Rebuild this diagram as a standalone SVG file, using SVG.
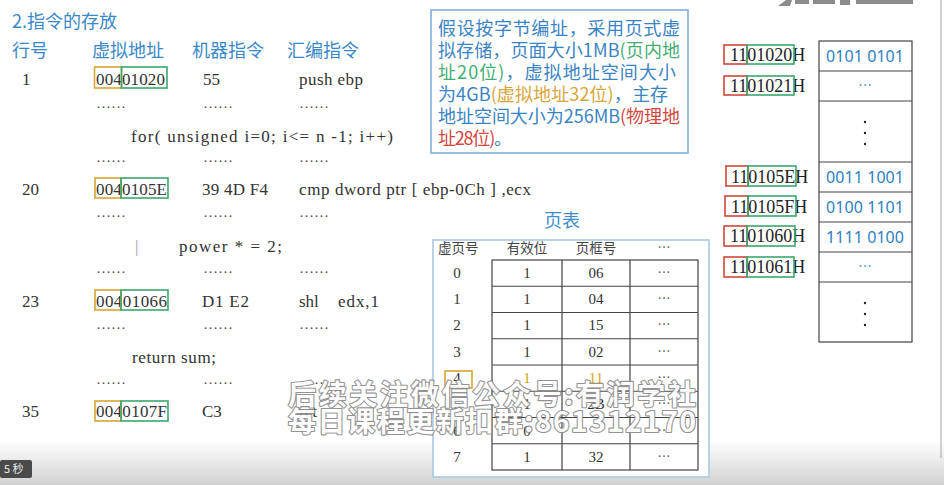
<svg xmlns="http://www.w3.org/2000/svg" width="944" height="485" viewBox="0 0 944 485">
<defs>
<linearGradient id="bar" x1="0" y1="0" x2="0" y2="1">
<stop offset="0" stop-color="#ffffff"/>
<stop offset="1" stop-color="#d2d2d2"/>
</linearGradient>
</defs>
<style>
.hd{font-family:"Noto Sans CJK SC","Noto Sans",sans-serif;font-size:18px;fill:#3a88c8}
.cd{font-family:"Liberation Serif",serif;font-size:17px;fill:#333}
.dt{font-family:"Liberation Serif",serif;font-size:15px;fill:#555}
.yb{fill:none;stroke:#d6a532;stroke-width:1.6}
.gb{fill:none;stroke:#3aa86e;stroke-width:1.6}
.rb{fill:none;stroke:#d0463c;stroke-width:1.6}
.ib{font-family:"Noto Sans CJK SC",sans-serif;font-size:18px;fill:#3a84c4}
.g{fill:#45ad73}.y{fill:#d8a63a}.r{fill:#d2483e}
.th{font-family:"Noto Sans CJK SC",serif;font-size:13.5px;fill:#444}
.tc{font-family:"Liberation Serif",serif;font-size:15px;fill:#333;text-anchor:middle}
.te{font-family:"Noto Sans CJK SC",sans-serif;font-size:13px;fill:#666;text-anchor:middle}
.grid{fill:none;stroke:#444;stroke-width:1.2}
.ad{font-family:"Liberation Serif",serif;font-size:18px;fill:#222}
.mv{font-family:"Noto Sans",sans-serif;font-size:16px;fill:#2f7fc1;text-anchor:middle}
.me{font-family:"Noto Sans CJK SC",sans-serif;font-size:14px;fill:#2f7fc1;text-anchor:middle}
.wm{font-family:"Noto Sans CJK SC",sans-serif;font-weight:700;font-size:28px;fill:#ffffff;stroke:#8a8a8a;stroke-width:2.2;paint-order:stroke;stroke-linejoin:round}
</style>
<rect x="0" y="0" width="944" height="485" fill="#ffffff"/>
<rect x="0" y="440" width="944" height="45" fill="url(#bar)"/>
<line x1="941" y1="0" x2="941" y2="458" stroke="#b5b5b5" stroke-width="1.2"/>
<g id="logo" fill="#8c8c8c">
<path d="M778 6 L786 0 L792 0 L790 6 Z"/>
<rect x="795" y="0" width="14" height="4"/>
<rect x="813" y="0" width="22" height="4"/>
<rect x="840" y="0" width="10" height="5"/>
<rect x="856" y="0" width="57" height="4"/>
</g>

<g id="heading">
<text class="hd" x="12" y="28">2.指令的存放</text>
<text class="hd" x="12" y="57">行号</text>
<text class="hd" x="92" y="57">虚拟地址</text>
<text class="hd" x="192" y="57">机器指令</text>
<text class="hd" x="287" y="57">汇编指令</text>
</g>

<g id="code-listing">
<text class="cd" x="22" y="85">1</text>
<text class="cd" x="96" y="85" textLength="69">00401020</text>
<text class="cd" x="203" y="85">55</text>
<text class="cd" x="299" y="85" textLength="64">push ebp</text>
<rect class="yb" x="94.5" y="67" width="27" height="21"/>
<rect class="gb" x="121.5" y="67" width="45.5" height="21"/>
<text class="dt" x="96" y="108">……</text><text class="dt" x="203" y="108">……</text><text class="dt" x="299" y="108">……</text>
<text class="cd" x="131" y="142" textLength="262">for( unsigned i=0; i&lt;= n -1; i++)</text>
<text class="dt" x="96" y="162">……</text><text class="dt" x="203" y="162">……</text><text class="dt" x="299" y="162">……</text>
<text class="cd" x="22" y="195">20</text>
<text class="cd" x="96" y="195" textLength="71">0040105E</text>
<text class="cd" x="202" y="195" textLength="66">39 4D F4</text>
<text class="cd" x="299" y="195" textLength="232">cmp dword ptr [ ebp-0Ch ] ,ecx</text>
<rect class="yb" x="95" y="178" width="26" height="20"/>
<rect class="gb" x="121" y="178" width="47" height="20"/>
<text class="dt" x="96" y="217">……</text><text class="dt" x="203" y="217">……</text><text class="dt" x="299" y="217">……</text>
<text class="cd" x="135" y="252" style="fill:#999">|</text>
<text class="cd" x="179" y="252" textLength="103">power  *  =  2;</text>
<text class="dt" x="96" y="273">……</text><text class="dt" x="203" y="273">……</text><text class="dt" x="299" y="273">……</text>
<text class="cd" x="22" y="307">23</text>
<text class="cd" x="96" y="307" textLength="71">00401066</text>
<text class="cd" x="202" y="307" textLength="47">D1 E2</text>
<text class="cd" x="299" y="307">shl</text>
<text class="cd" x="338" y="307" textLength="41">edx,1</text>
<rect class="yb" x="95" y="290" width="26" height="20"/>
<rect class="gb" x="121" y="290" width="47" height="20"/>
<text class="dt" x="96" y="329">……</text><text class="dt" x="203" y="329">……</text><text class="dt" x="299" y="329">……</text>
<text class="cd" x="132" y="363" textLength="84">return sum;</text>
<text class="dt" x="96" y="384">……</text><text class="dt" x="203" y="384">……</text><text class="dt" x="299" y="384">……</text>
<text class="cd" x="22" y="417">35</text>
<text class="cd" x="96" y="417" textLength="71">0040107F</text>
<text class="cd" x="202" y="417">C3</text>
<text class="cd" x="299" y="417">ret</text>
<rect class="yb" x="95" y="401" width="26" height="20"/>
<rect class="gb" x="121" y="401" width="47" height="20"/>
</g>

<g id="info-box">
<rect x="431" y="10" width="257" height="143" fill="#ffffff" stroke="#7fb0dc" stroke-width="1.6"/>
<text class="ib" x="438" y="35" textLength="242">假设按字节编址，采用页式虚</text>
<text class="ib" x="438" y="57" textLength="242">拟存储，页面大小1MB<tspan class="g">(页内地</tspan></text>
<text class="ib" x="438" y="79" textLength="238"><tspan class="g">址20位)</tspan>，虚拟地址空间大小</text>
<text class="ib" x="438" y="101" textLength="230">为4GB<tspan class="y">(虚拟地址32位)</tspan>，主存</text>
<text class="ib" x="438" y="123" textLength="242">地址空间大小为256MB<tspan class="r">(物理地</tspan></text>
<text class="ib" x="438" y="145" textLength="74"><tspan class="r">址28位)</tspan>。</text>
</g>

<g id="page-table">
<text x="562" y="227" text-anchor="middle" style="font-family:'Noto Sans CJK SC',sans-serif;font-size:18px;fill:#3f8fcb">页表</text>
<rect x="433" y="240" width="276" height="237" fill="#ffffff" stroke="#a8c8e8" stroke-width="1.6"/>
<text class="th" x="438" y="253">虚页号</text>
<text class="th" x="527" y="253" text-anchor="middle">有效位</text>
<text class="th" x="596" y="253" text-anchor="middle">页框号</text>
<text class="te" x="664" y="252">…</text>
<rect class="grid" x="492" y="260" width="206" height="210"/>
<path class="grid" d="M562 260V470M630 260V470M492 286.25H698M492 312.5H698M492 338.75H698M492 365H698M492 391.25H698M492 417.5H698M492 443.75H698"/>
<g>
<text class="tc" x="457" y="278">0</text><text class="tc" x="527" y="278">1</text><text class="tc" x="596" y="278">06</text><text class="te" x="664" y="277">…</text>
<text class="tc" x="457" y="304">1</text><text class="tc" x="527" y="304">1</text><text class="tc" x="596" y="304">04</text><text class="te" x="664" y="303">…</text>
<text class="tc" x="457" y="330">2</text><text class="tc" x="527" y="330">1</text><text class="tc" x="596" y="330">15</text><text class="te" x="664" y="329">…</text>
<text class="tc" x="457" y="357">3</text><text class="tc" x="527" y="357">1</text><text class="tc" x="596" y="357">02</text><text class="te" x="664" y="356">…</text>
<text class="tc" x="457" y="383">4</text><text class="tc" x="527" y="383" style="fill:#d9a520">1</text><text class="tc" x="596" y="383" style="fill:#d9a520">11</text><text class="te" x="664" y="382">…</text>
<rect class="yb" x="445" y="371" width="27" height="17"/>
<text class="tc" x="457" y="409">5</text><text class="tc" x="527" y="409">1</text><text class="tc" x="596" y="409">2B</text><text class="te" x="664" y="408">…</text>
<text class="tc" x="457" y="436">6</text><text class="tc" x="527" y="436">0</text><text class="te" x="664" y="435">…</text>
<text class="tc" x="457" y="462">7</text><text class="tc" x="527" y="462">1</text><text class="tc" x="596" y="462">32</text><text class="te" x="664" y="461">…</text>
</g>
</g>

<g id="memory">
<rect class="grid" x="819" y="41" width="93" height="301"/>
<path class="grid" d="M819 71H912M819 101H912M819 162H912M819 192H912M819 222H912M819 252H912M819 282H912"/>
<text class="mv" x="865" y="62" textLength="78">0101 0101</text>
<text class="me" x="865" y="90">…</text>
<g fill="#222"><circle cx="865" cy="122" r="1.2"/><circle cx="865" cy="133" r="1.2"/><circle cx="865" cy="144" r="1.2"/></g>
<text class="mv" x="865" y="183" textLength="78">0011 1001</text>
<text class="mv" x="865" y="213" textLength="78">0100 1101</text>
<text class="mv" x="865" y="243" textLength="78">1111 0100</text>
<text class="me" x="865" y="271">…</text>
<g fill="#222"><circle cx="865" cy="303" r="1.2"/><circle cx="865" cy="314" r="1.2"/><circle cx="865" cy="325" r="1.2"/></g>
</g>

<g id="addresses">
<text class="ad" x="730" y="61">1101020H</text>
<rect class="rb" x="724" y="45" width="23" height="19"/><rect class="gb" x="747" y="45" width="47" height="19"/>
<text class="ad" x="730" y="92">1101021H</text>
<rect class="rb" x="724" y="76" width="23" height="19"/><rect class="gb" x="747" y="76" width="47" height="19"/>
<text class="ad" x="731" y="183">110105EH</text>
<rect class="rb" x="726" y="166" width="22" height="20"/><rect class="gb" x="748" y="166" width="48" height="20"/>
<text class="ad" x="731" y="213">110105FH</text>
<rect class="rb" x="725" y="196" width="23" height="20"/><rect class="gb" x="748" y="196" width="48" height="20"/>
<text class="ad" x="730" y="242">1101060H</text>
<rect class="rb" x="724" y="226" width="23" height="20"/><rect class="gb" x="747" y="226" width="48" height="20"/>
<text class="ad" x="730" y="273">1101061H</text>
<rect class="rb" x="724" y="257" width="23" height="20"/><rect class="gb" x="747" y="257" width="47" height="20"/>
</g>

<g id="connectors"></g>

<g id="watermark" opacity="0.92">
<text class="wm" x="288" y="405" textLength="408">后续关注微信公众号:有润学社</text>
<text class="wm" x="288" y="432" textLength="408">每日课程更新扣群:861312170</text>
</g>

<g id="badge">
<rect x="0" y="460" width="32" height="18" rx="2" fill="#4a4a4a"/>
<text x="4" y="473" style="font-family:'Noto Sans CJK SC',sans-serif;font-size:11px;fill:#eeeeee">5 秒</text>
</g>
</svg>
